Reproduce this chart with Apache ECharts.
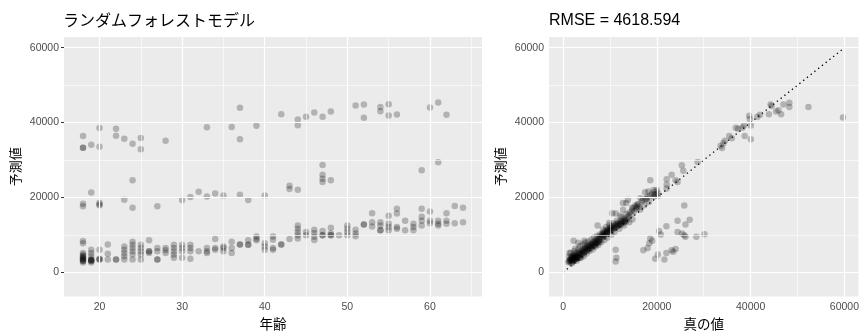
<!DOCTYPE html>
<html>
<head>
<meta charset="utf-8">
<script src="https://cdn.jsdelivr.net/npm/echarts@6/dist/echarts.min.js"></script>
<style>
  html, body { margin: 0; padding: 0; background: #fff; }
  #main { width: 862px; height: 336px; }
</style>
</head>
<body>
<div id="main"></div>
<script>
// 年齢 vs 予測値 : lower band, one list of predictions per age
var bandAge = [18, 19, 20, 21, 22, 23, 24, 25, 26, 27, 28, 29, 30, 31, 32, 33, 34, 35, 36, 37, 38, 39, 40, 41,
  42, 43, 44, 45, 46, 47, 48, 49, 50, 51, 52, 53, 54, 55, 56, 57, 58, 59, 60, 61, 62, 63, 64];
var bandPred = [
  [8350, 7760, 5170, 4740, 4310, 3880, 3450, 3020, 2590, 3450, 4310, 3020, 3700],
  [6040, 5170, 4310, 3450, 3020, 2590, 3450, 3020, 3300],
  [6040, 3450, 3450, 3600],
  [7420, 4980, 3450],
  [3450, 3450],
  [6900, 6040, 5170, 4310, 3450],
  [8190, 7330, 6470, 5600, 4740, 3450],
  [7330, 6470, 5600, 4740, 3450],
  [8530, 5600, 5170, 5600],
  [6470, 5600, 3450, 3450],
  [6470, 5860, 5170],
  [7330, 6470, 5600, 4740, 3880],
  [7330, 6470, 5600, 3880],
  [7330, 6470, 5600, 3620],
  [5600],
  [6470, 5600, 5170],
  [8880, 6470, 6040],
  [6900, 6470, 5600],
  [8190, 6470, 5170],
  [7420, 7420],
  [8530, 7330, 7330],
  [9570, 8970, 8530],
  [7760, 6900, 6040],
  [9570, 8710, 6470, 6040],
  [7420, 7420],
  [8880],
  [12500, 11640, 10780, 9920, 9060],
  [10780, 9920],
  [11380, 10520, 9490, 8620],
  [11040, 9920, 9920],
  [11900, 10350, 9920, 9920],
  [9920],
  [12500, 11640, 10780, 9920],
  [11380, 10350, 9660],
  [12760, 12760],
  [15780, 13370, 12250],
  [13370, 12500, 11210, 11210],
  [15090, 12940, 12070, 11210],
  [16980, 15690, 12070, 11640],
  [13800, 11210],
  [12940, 12070, 11210],
  [16980, 14830, 13800, 12500],
  [16210, 13800, 13110],
  [13800, 12940, 12500],
  [15780, 13800, 12940],
  [17680, 13110],
  [17250, 13370]
];
// 年齢 vs 予測値 : middle band [age, pred]
var midAgePoints = [[18, 18290], [18, 17670], [19, 21290], [20, 18550], [20, 17930], [20, 18100], [23, 19400],
  [24, 24580], [24, 17250], [27, 17670], [30, 19320], [31, 20100], [32, 21550], [33, 20260], [34, 21030],
  [35, 20520], [37, 20700], [38, 19320], [40, 20520], [43, 23100], [43, 22250], [44, 22070], [47, 28640],
  [47, 26040], [47, 25010], [47, 24140], [48, 24580], [59, 27240], [61, 29410]];
// 年齢 vs 予測値 : upper band [age, pred]
var highAgePoints = [[18, 36400], [18, 33300], [18, 33300], [19, 34070], [20, 38550], [20, 33550], [22, 38370],
  [22, 36480], [23, 35700], [24, 34330], [25, 35880], [25, 32850], [28, 35180], [33, 38730], [36, 38800],
  [37, 43980], [37, 35520], [39, 39140], [42, 42250], [44, 40800], [44, 39320], [45, 41570], [46, 42680],
  [47, 41570], [48, 42940], [51, 44580], [52, 44830], [52, 41310], [54, 44150], [54, 43030], [55, 44920],
  [55, 41910], [56, 42170], [60, 44060], [61, 45350], [62, 42080]];

// 真の値 vs 予測値 [true, pred]
var fitLow = [[1150, 2700], [1250, 3100], [1400, 2900], [1500, 3400], [1600, 3200], [1650, 3700], [1700, 2600],
  [1750, 3500], [1800, 4100], [1900, 3000], [1950, 3800], [2000, 3300], [2050, 4400], [2100, 3600], [2150, 2900],
  [2200, 4000], [2250, 3400], [2300, 4700], [2350, 3700], [2400, 3200], [2450, 4200], [2500, 3900], [2550, 5000],
  [2600, 3500], [2650, 4400], [2700, 3800], [2800, 4100], [2850, 3600], [2900, 4600], [3000, 4000], [3050, 5300],
  [3100, 3700], [3200, 4300], [3300, 4800], [3400, 4100], [3500, 5200], [3550, 3800], [1400, 5170], [2250, 8450],
  [3250, 7900], [4560, 8450]];
var fitMid = [[3600, 4600], [3700, 5400], [3800, 4900], [3900, 5800], [4000, 5100], [4100, 4700], [4200, 5600],
  [4300, 6000], [4400, 5300], [4550, 6200], [4600, 5500], [4700, 6500], [4800, 5900], [4900, 6800], [5000, 6300],
  [5100, 5800], [5200, 7000], [5300, 6600], [5400, 6100], [5500, 7200], [5600, 6800], [5700, 6400], [5800, 7500],
  [5900, 7000], [6000, 6600], [6100, 7700], [6200, 7300], [6300, 6900], [6400, 8000], [6500, 7500], [6600, 7100],
  [6700, 8300], [6800, 7800], [6900, 7400], [7000, 8500], [7100, 8100], [7200, 7700], [7300, 8800], [7400, 8300],
  [7500, 7900], [7600, 9000], [7700, 8600], [7800, 8200], [7900, 9400], [7370, 12500]];
var fitUpper = [[8100, 9200], [8200, 9800], [8300, 10300], [8400, 9500], [8500, 10000], [8600, 10600], [8700, 9700],
  [8800, 10200], [8900, 10900], [9000, 10000], [9100, 10500], [9200, 11100], [9300, 10300], [9400, 10800],
  [9500, 11400], [9600, 10600], [9700, 11100], [9800, 11700], [9900, 10900], [10000, 11400], [10100, 12000],
  [10200, 11200], [10400, 11700], [10500, 12300], [10600, 11500], [10800, 12000], [10900, 12600], [11000, 11800],
  [11200, 12300], [11300, 12900], [11400, 12100], [11600, 12600], [11700, 13200], [11800, 12400], [12000, 12900],
  [12100, 13500], [12200, 12700], [12400, 13200], [12500, 13800], [12600, 13000], [12800, 13500], [12900, 14100],
  [13000, 13300], [13200, 13800], [13300, 14400], [13400, 13600], [13600, 14000], [9830, 13190], [12210, 15090]];
var fitSpread = [[1300, 4200], [1600, 5200], [1900, 2400], [2400, 5600], [2600, 6300], [2900, 3100], [3300, 6200],
  [3600, 7000], [3800, 3900], [4200, 7400], [4400, 4300], [4700, 7900], [5000, 5000], [5300, 8200], [5600, 5700],
  [6000, 8700], [6300, 6100], [6600, 9200], [6900, 6800], [7200, 9600], [7500, 7300], [7800, 10100], [8100, 8000],
  [8500, 11400], [8800, 8600], [9200, 12100], [9500, 9300], [9900, 12600], [10300, 10100], [10700, 13100],
  [11000, 10800], [11500, 13800], [12000, 11600], [12500, 14700], [13000, 12500], [13500, 15600], [14100, 13400],
  [14800, 14100], [10500, 15800], [12800, 16700], [13500, 18500], [16500, 19800], [17800, 19600]];
var fitTop = [[13800, 14700], [14000, 15200], [14200, 16000], [14500, 15500], [14700, 16500], [15000, 17200],
  [15200, 16400], [15400, 17800], [15600, 17000], [15800, 17600], [16000, 18200], [16200, 17400], [16500, 16800],
  [16800, 18900], [17000, 19300], [17300, 17900], [17600, 19500], [18000, 20100], [18300, 18800], [18600, 20500],
  [19000, 21000], [19300, 20200], [19600, 21500], [19800, 20800], [20000, 22000], [20200, 20400],
  [11220, 15690], [12770, 18540], [13830, 19400], [14740, 17250], [15790, 18110], [18600, 24580], [18200, 21560],
  [17500, 21390], [19300, 21990], [19500, 20700], [20210, 21130], [22100, 24830], [22100, 23450], [22100, 22420],
  [23160, 26040], [24000, 24580], [24420, 24150], [25330, 28630], [25640, 27160], [28700, 29490]];
var underPredicted = [[11220, 6040], [11370, 3880], [11220, 2850], [17120, 5860], [18040, 6470], [18390, 7760],
  [18600, 9040], [19000, 8450], [19650, 3620], [20210, 4740], [20490, 11040], [20840, 10090], [21610, 3450],
  [22040, 5170], [22040, 12330], [23160, 5860], [23500, 5520], [24000, 6210], [24420, 13800], [24420, 10780],
  [25400, 10350], [25850, 9920], [26100, 9490], [25850, 17850], [26100, 12760], [27010, 14050], [28420, 9490],
  [30170, 10170]];
var highValue = [[33600, 33800], [33900, 33200], [34200, 34490], [34500, 35180], [35440, 36400], [36000, 35790],
  [36840, 38630], [37330, 38370], [38240, 38630], [38590, 39240], [38740, 36400], [39690, 41830], [39830, 40950],
  [40040, 39240], [40040, 35520], [41440, 41570], [42000, 42080], [43900, 42250], [44260, 44840], [44470, 44410],
  [45450, 42940], [45940, 43290], [46500, 42250], [47000, 44840], [48260, 45270], [48260, 44150], [52330, 44150],
  [59700, 41390]];
var refLine = [[0, 0], [59700, 59700]];

// ticks
var ageTicks = [20, 30, 40, 50, 60];
var ageMinor = [25, 35, 45, 55, 65];
var chargeTicks = [0, 20000, 40000, 60000];
var chargeMinor = [10000, 30000, 50000];

var agePoints = [];
bandAge.forEach(function (a, i) {
  bandPred[i].forEach(function (p) { agePoints.push([a, p]); });
});
agePoints = agePoints.concat(midAgePoints, highAgePoints);
var truthPoints = [].concat(fitLow, fitMid, fitUpper, fitSpread, fitTop, underPredicted, highValue);

var labelFont = 'Liberation Sans';
var cjkFont = 'Noto Sans CJK JP';

function gridLines(xMajor, xMinor, yMajor, yMinor) {
  var d = [];
  xMinor.forEach(function (v) { d.push({ xAxis: v, lineStyle: { width: 0.6 } }); });
  yMinor.forEach(function (v) { d.push({ yAxis: v, lineStyle: { width: 0.6 } }); });
  xMajor.forEach(function (v) { d.push({ xAxis: v, lineStyle: { width: 1.2 } }); });
  yMajor.forEach(function (v) { d.push({ yAxis: v, lineStyle: { width: 1.2 } }); });
  return d;
}

function xAx(idx, min, max, ticks, name) {
  return {
    gridIndex: idx, type: 'value', min: min, max: max,
    axisLine: { show: false },
    axisTick: { show: true, length: 3, customValues: ticks, lineStyle: { color: '#333', width: 1 } },
    axisLabel: { customValues: ticks, margin: 5, color: '#4d4d4d', fontSize: 10.5, fontFamily: labelFont,
      formatter: function (v) { return String(v); } },
    splitLine: { show: false },
    name: name, nameLocation: 'middle', nameGap: 21,
    nameTextStyle: { fontFamily: cjkFont, fontSize: 13.5, color: '#000' }
  };
}
function yAx(idx, name) {
  return {
    gridIndex: idx, type: 'value', min: -6470, max: 62870,
    axisLine: { show: false },
    axisTick: { show: true, length: 3, customValues: chargeTicks, lineStyle: { color: '#333', width: 1 } },
    axisLabel: { customValues: chargeTicks, margin: 5, color: '#4d4d4d', fontSize: 10.5, fontFamily: labelFont,
      formatter: function (v) { return String(v); } },
    splitLine: { show: false },
    name: name, nameLocation: 'middle', nameGap: 42,
    nameTextStyle: { fontFamily: cjkFont, fontSize: 13, color: '#000' }
  };
}

var chart = echarts.init(document.getElementById('main'));
var option = {
  animation: false,
  backgroundColor: '#fff',
  title: [
    { text: 'ランダムフォレストモデル', left: 63, top: 12, padding: 0,
      textStyle: { fontFamily: cjkFont, fontSize: 16, fontWeight: 'normal', color: '#000' } },
    { text: 'RMSE = 4618.594', left: 549, top: 13, padding: 0,
      textStyle: { fontFamily: labelFont, fontSize: 16, fontWeight: 'normal', color: '#000' } }
  ],
  grid: [
    { left: 64, top: 37, width: 418, height: 267, show: true, backgroundColor: '#ebebeb', borderWidth: 0 },
    { left: 549, top: 37, width: 313, height: 267, show: true, backgroundColor: '#ebebeb', borderWidth: 0 }
  ],
  xAxis: [
    xAx(0, 15.7, 66.3, ageTicks, '年齢'),
    xAx(1, -3000, 63000, chargeTicks, '真の値')
  ],
  yAxis: [
    yAx(0, '予測値'),
    yAx(1, '予測値')
  ],
  series: [
    { type: 'scatter', xAxisIndex: 0, yAxisIndex: 0, data: [], silent: true, z: 1,
      markLine: { silent: true, symbol: 'none', label: { show: false },
        lineStyle: { color: '#fff', type: 'solid' },
        data: gridLines(ageTicks, ageMinor, chargeTicks, chargeMinor) } },
    { type: 'scatter', xAxisIndex: 1, yAxisIndex: 1, data: [], silent: true, z: 1,
      markLine: { silent: true, symbol: 'none', label: { show: false },
        lineStyle: { color: '#fff', type: 'solid' },
        data: gridLines(chargeTicks, chargeMinor, chargeTicks, chargeMinor) } },
    { type: 'scatter', xAxisIndex: 0, yAxisIndex: 0, data: agePoints, symbolSize: 6.5, z: 2,
      itemStyle: { color: 'rgba(0,0,0,0.3)' } },
    { type: 'scatter', xAxisIndex: 1, yAxisIndex: 1, data: truthPoints, symbolSize: 6.5, z: 2,
      itemStyle: { color: 'rgba(0,0,0,0.3)' } },
    { type: 'line', xAxisIndex: 1, yAxisIndex: 1, data: refLine, symbol: 'none', z: 3,
      lineStyle: { color: '#000', width: 1.3, type: [1.3, 3.5] } }
  ]
};
chart.setOption(option);
</script>
</body>
</html>
